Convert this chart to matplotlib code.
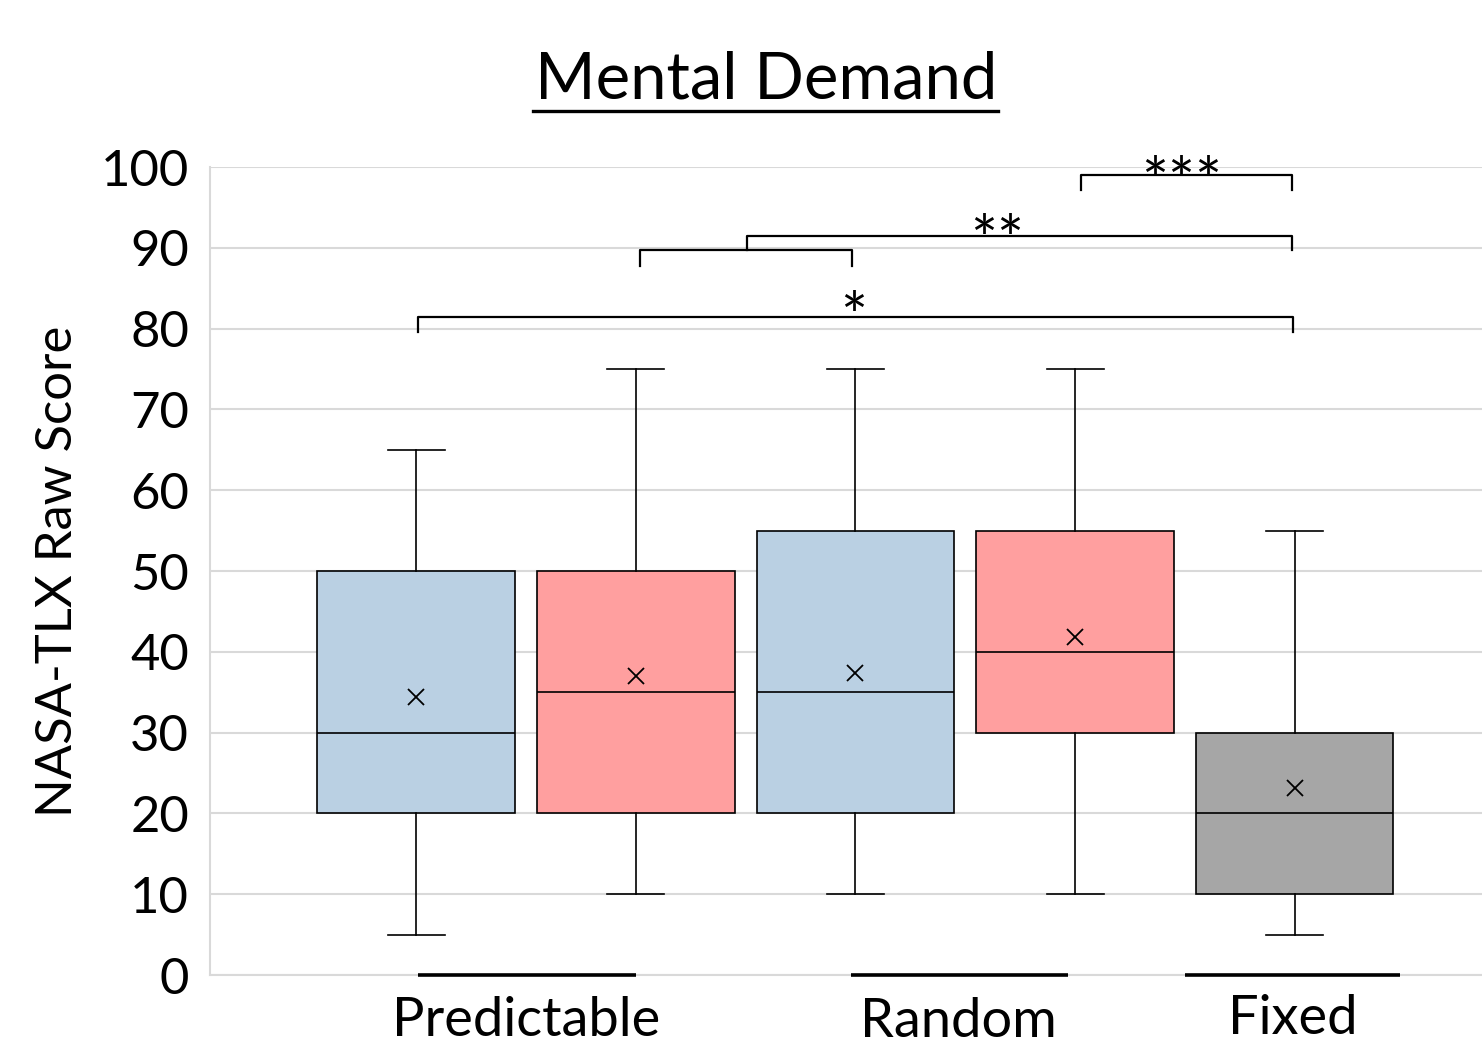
import matplotlib
matplotlib.use("Agg")
import matplotlib.pyplot as plt

plt.rcParams['font.family'] = ['Lato', 'DejaVu Sans']

# ---- data ----
box_positions = [1, 2, 3, 4, 5]
whisker_low = [5, 10, 10, 10, 5]
q1 = [20, 20, 20, 30, 10]
medians = [30, 35, 35, 40, 20]
q3 = [50, 50, 55, 55, 30]
whisker_high = [65, 75, 75, 75, 55]
means = [34.4, 37.0, 37.4, 41.8, 23.1]
box_colors = ['#bad0e3', '#ff9f9f', '#bad0e3', '#ff9f9f', '#a6a6a6']

group_labels = ['Predictable', 'Random', 'Fixed']
group_label_x = [1.50, 3.47, 4.99]
group_label_y = [-5.6, -5.8, -5.4]
group_line_start = [1.01, 2.98, 4.50]
group_line_end = [2.00, 3.97, 5.48]

yticks = [0, 10, 20, 30, 40, 50, 60, 70, 80, 90, 100]

# significance brackets: (x_left, x_right, y_bar, y_left_end, y_right_end)
brackets = [
    (1.008, 4.993, 81.4, 79.6, 79.6),
    (2.017, 2.985, 89.7, 87.7, 87.7),
    (2.504, 4.990, 91.5, 89.7, 89.7),
    (4.025, 4.990, 99.0, 97.1, 97.1),
]
star_texts = ['*', '**', '***']
star_x = [2.99, 3.645, 4.487]
star_y = [83.5, 93.1, 100.2]

# ---- figure ----
fig = plt.figure(figsize=(14.82, 10.45), dpi=100)
ax = fig.add_axes([210/1482, 70/1045, 1 - 210/1482, (975-167)/1045])

stats = []
for i in range(len(box_positions)):
    stats.append(dict(whislo=whisker_low[i], q1=q1[i], med=medians[i],
                      q3=q3[i], whishi=whisker_high[i], mean=means[i],
                      fliers=[]))

bp = ax.bxp(stats, positions=box_positions, widths=0.9, capwidths=0.26,
            patch_artist=True, showmeans=True, showfliers=False,
            boxprops=dict(linewidth=1.2, edgecolor='black'),
            medianprops=dict(color='black', linewidth=1.2),
            whiskerprops=dict(color='black', linewidth=1.2),
            capprops=dict(color='black', linewidth=1.2),
            meanprops=dict(marker='x', markeredgecolor='black',
                           markersize=12, markeredgewidth=1.3),
            zorder=3)
for patch, c in zip(bp['boxes'], box_colors):
    patch.set_facecolor(c)

ax.set_xlim(0.061, 5.853)
ax.set_ylim(0, 100)
ax.set_yticks(yticks)
ax.set_yticklabels([str(t) for t in yticks], fontsize=36.5)
ax.set_xticks([])
ax.tick_params(axis='y', length=0, pad=15)
ax.grid(axis='y', color='#d9d9d9', linewidth=1.5, zorder=0)
ax.set_axisbelow(True)
for s in ['top', 'right']:
    ax.spines[s].set_visible(False)
ax.spines['left'].set_color('#d9d9d9')
ax.spines['left'].set_linewidth(1.5)
ax.spines['bottom'].set_color('#d9d9d9')
ax.spines['bottom'].set_linewidth(1.5)

ax.set_ylabel('NASA-TLX Raw Score', fontsize=36.5, labelpad=14)

# group underline bars and labels
for xs, xe in zip(group_line_start, group_line_end):
    ax.plot([xs, xe], [0, 0], color='black', linewidth=2.6,
            solid_capstyle='butt', clip_on=False, zorder=4)
for lab, x, y in zip(group_labels, group_label_x, group_label_y):
    ax.text(x, y, lab, ha='center', va='center', fontsize=39)

# significance brackets
for (xl, xr, yb, yl, yr) in brackets:
    ax.plot([xl, xl, xr, xr], [yl, yb, yb, yr], color='black',
            linewidth=1.6, clip_on=False, zorder=5)
for t, x, y in zip(star_texts, star_x, star_y):
    ax.text(x, y - 2.6, t, ha='center', va='center', fontsize=46,
            clip_on=False, zorder=6)

# title with underline
fig.text(766/1482, 1 - 80/1045, 'Mental Demand', ha='center', va='center',
         fontsize=47)
fig.add_artist(plt.Line2D([533/1482, 998/1482], [1 - 111/1045, 1 - 111/1045],
                          color='black', linewidth=2.4))

fig.savefig('out.png', dpi=100)
